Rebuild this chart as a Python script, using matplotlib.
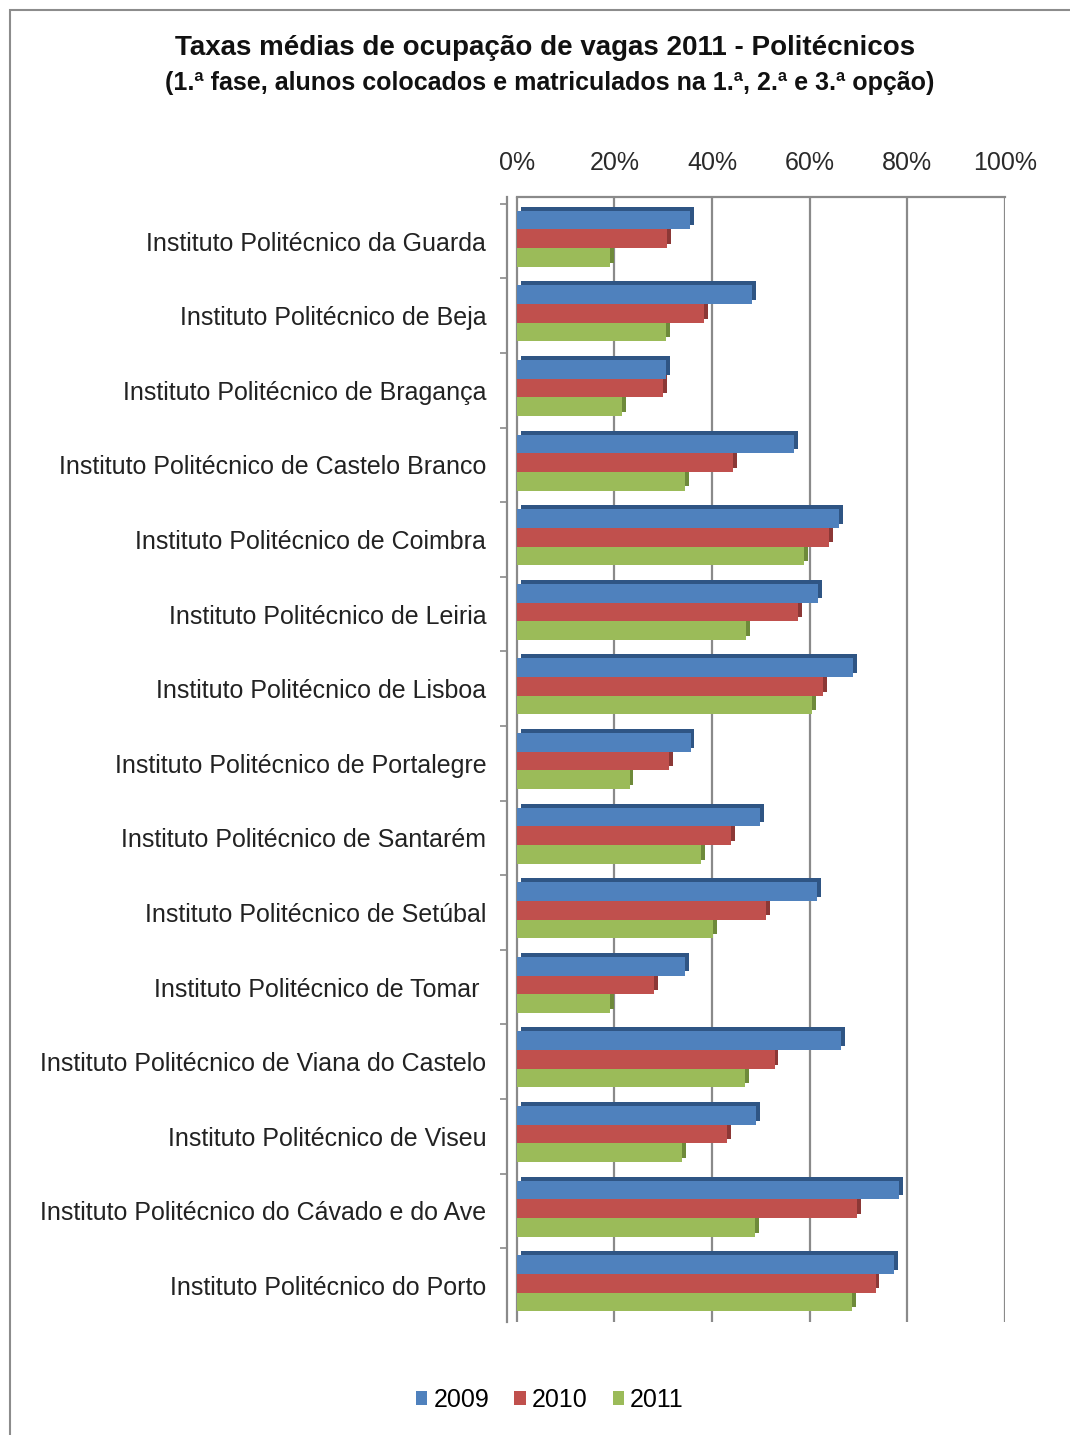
import matplotlib
matplotlib.use('Agg')
import matplotlib.pyplot as plt
from matplotlib.patches import Rectangle
from matplotlib.ticker import FixedLocator

plt.rcParams['font.family'] = ['Liberation Sans', 'DejaVu Sans']

institutos = [
    'Instituto Politécnico da Guarda',
    'Instituto Politécnico de Beja',
    'Instituto Politécnico de Bragança',
    'Instituto Politécnico de Castelo Branco',
    'Instituto Politécnico de Coimbra',
    'Instituto Politécnico de Leiria',
    'Instituto Politécnico de Lisboa',
    'Instituto Politécnico de Portalegre',
    'Instituto Politécnico de Santarém',
    'Instituto Politécnico de Setúbal',
    'Instituto Politécnico de Tomar ',
    'Instituto Politécnico de Viana do Castelo',
    'Instituto Politécnico de Viseu',
    'Instituto Politécnico do Cávado e do Ave',
    'Instituto Politécnico do Porto',
]
anos = ['2009', '2010', '2011']
v2009 = [35.5, 48.2, 30.5, 56.8, 66.0, 61.7, 68.9, 35.6, 49.9, 61.5, 34.4, 66.4, 49.1, 78.4, 77.2]
v2010 = [30.8, 38.4, 29.9, 44.4, 63.9, 57.7, 62.8, 31.2, 43.9, 51.1, 28.1, 52.8, 43.1, 69.7, 73.5]
v2011 = [19.1, 30.5, 21.5, 34.5, 58.9, 46.9, 60.4, 23.1, 37.8, 40.2, 19.1, 46.8, 33.9, 48.8, 68.6]
xticks = [0, 20, 40, 60, 80, 100]

cores = ['#4F81BD', '#C0504D', '#9BBB59']
sombras = ['#2F5584', '#8C3836', '#6E8A3A']

fig = plt.figure(figsize=(10.7, 14.35), dpi=100)
ax = fig.add_axes([0.4738, 0.0787, 0.4654, 0.784])

h = 0.25
dx, dy = 0.8, 0.055
y = list(range(len(institutos)))
series = [v2009, v2010, v2011]
offs = [-h - 0.03, -0.03, h - 0.03]

# faces escuras por tras, para dar um ar 3D
for vals, off, sc in zip(series, offs, sombras):
    ax.barh([i + off - dy for i in y], vals, height=h, left=dx, color=sc, zorder=2)
for vals, off, c, lab in zip(series, offs, cores, anos):
    ax.barh([i + off for i in y], vals, height=h, color=c, zorder=3, label=lab)

ax.set_xlim(-2, 100)
ax.set_ylim(len(institutos) - 0.51, -0.59)

ax.xaxis.tick_top()
ax.set_xticks(xticks)
ax.set_xticklabels([f'{t}%' for t in xticks], fontsize=18, color='#2a2a2a')
ax.tick_params(axis='x', length=0, pad=16)
ax.grid(axis='x', color='#8a8a8a', lw=1.6, zorder=1)

ax.set_yticks(y)
ax.set_yticklabels(institutos, fontsize=18, color='#222222')
ax.yaxis.set_minor_locator(FixedLocator([i - 0.5 for i in range(len(institutos) + 1)]))
ax.tick_params(axis='y', which='major', length=0, pad=15)
ax.tick_params(axis='y', which='minor', length=5, width=1.2, color='#8a8a8a')

for s in ['right', 'bottom']:
    ax.spines[s].set_visible(False)
ax.spines['top'].set_bounds(0, 100)
ax.spines['top'].set_color('#8a8a8a')
ax.spines['top'].set_linewidth(1.6)
ax.spines['left'].set_color('#8a8a8a')
ax.spines['left'].set_linewidth(1.6)

fig.text(0.509, 1 - 48 / 1435, 'Taxas médias de ocupação de vagas 2011 - Politécnicos',
         ha='center', va='center', fontsize=20, fontweight='bold', color='#111111')
fig.text(0.514, 1 - 83 / 1435, '(1.ª fase, alunos colocados e matriculados na 1.ª, 2.ª e 3.ª opção)',
         ha='center', va='center', fontsize=18, fontweight='bold', color='#111111')

ax.legend(loc='center', bbox_to_anchor=(0.514, 1 - 1400 / 1435), bbox_transform=fig.transFigure,
          ncol=3, frameon=False, fontsize=18, handlelength=0.45, handleheight=0.45,
          handletextpad=0.25, columnspacing=1.0)

fig.patches.append(Rectangle((10 / 1070, -0.05), 1.05, 1.05 - 10 / 1435,
                             transform=fig.transFigure, fill=False, edgecolor='#8c8c8c', lw=1.5))

fig.savefig('out.png', dpi=100, facecolor='white')
